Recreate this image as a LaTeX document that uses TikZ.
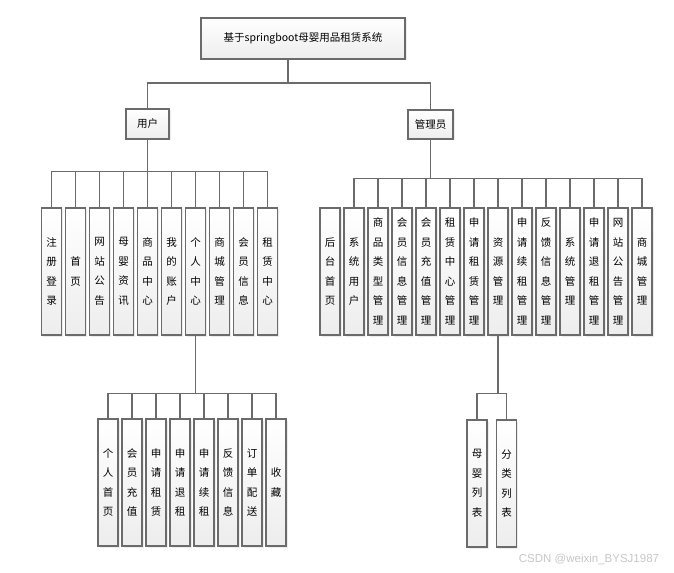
\documentclass[tikz,border=0pt]{standalone}
\usepackage{fontspec}
\setmainfont{Noto Sans CJK SC}
\newfontfamily\wmfont{Liberation Sans}
\usetikzlibrary{shadows, positioning}

\begin{document}
\begin{tikzpicture}[x=1bp, y=-1bp, node distance=24bp,
    block/.style={rectangle, draw=black!58, line width=1.2bp, top color=white, bottom color=gray!14, drop shadow={shadow xshift=1.5bp, shadow yshift=-1.5bp, fill=gray!30}, text centered, inner sep=0pt, font=\fontsize{10.5bp}{12bp}\selectfont},
    leaf/.style={block, minimum width=20bp, minimum height=127bp, align=center, font=\fontsize{10.5bp}{19.5bp}\selectfont},
    link/.style={draw, black!58, line width=1.1bp}]

    \useasboundingbox (0,0) rectangle (674,573);

    \node [block, minimum width=204bp, minimum height=41bp] (root) at (303,38.5) {基于springboot母婴用品租赁系统};
    \coordinate (hub) at (288,83);
    \node [block, minimum width=43bp, minimum height=30bp] (user) at (147.5,124) {用户};
    \node [block, minimum width=45bp, minimum height=29bp] (admin) at (430.5,124.5) {管理员};

    % user side
    \node [leaf] (u1) at (51.7,271.5) {注\\册\\登\\录};
    \node [leaf, right of=u1] (u2) {首\\页};
    \node [leaf, right of=u2] (u3) {网\\站\\公\\告};
    \node [leaf, right of=u3] (u4) {母\\婴\\资\\讯};
    \node [leaf, right of=u4] (u5) {商\\品\\中\\心};
    \node [leaf, right of=u5] (u6) {我\\的\\账\\户};
    \node [leaf, right of=u6] (u7) {个\\人\\中\\心};
    \node [leaf, right of=u7] (u8) {商\\城\\管\\理};
    \node [leaf, right of=u8] (u9) {会\\员\\信\\息};
    \node [leaf, right of=u9] (u10) {租\\赁\\中\\心};

    % admin side
    \node [leaf] (a1) at (330,271.5) {后\\台\\首\\页};
    \node [leaf, right of=a1] (a2) {系\\统\\用\\户};
    \node [leaf, right of=a2] (a3) {商\\品\\类\\型\\管\\理};
    \node [leaf, right of=a3] (a4) {会\\员\\信\\息\\管\\理};
    \node [leaf, right of=a4] (a5) {会\\员\\充\\值\\管\\理};
    \node [leaf, right of=a5] (a6) {租\\赁\\中\\心\\管\\理};
    \node [leaf, right of=a6] (a7) {申\\请\\租\\赁\\管\\理};
    \node [leaf, right of=a7] (a8) {资\\源\\管\\理};
    \node [leaf, right of=a8] (a9) {申\\请\\续\\租\\管\\理};
    \node [leaf, right of=a9] (a10) {反\\馈\\信\\息\\管\\理};
    \node [leaf, right of=a10] (a11) {系\\统\\管\\理};
    \node [leaf, right of=a11] (a12) {申\\请\\退\\租\\管\\理};
    \node [leaf, right of=a12] (a13) {网\\站\\公\\告\\管\\理};
    \node [leaf, right of=a13] (a14) {商\\城\\管\\理};

    % personal centre
    \node [leaf] (p1) at (108,482.5) {个\\人\\首\\页};
    \node [leaf, right of=p1] (p2) {会\\员\\充\\值};
    \node [leaf, right of=p2] (p3) {申\\请\\租\\赁};
    \node [leaf, right of=p3] (p4) {申\\请\\退\\租};
    \node [leaf, right of=p4] (p5) {申\\请\\续\\租};
    \node [leaf, right of=p5] (p6) {反\\馈\\信\\息};
    \node [leaf, right of=p6] (p7) {订\\单\\配\\送};
    \node [leaf, right of=p7] (p8) {收\\藏};

    % resources
    \node [leaf] (r1) at (477,483.5) {母\\婴\\列\\表};
    \node [leaf, right=8.5bp of r1] (r2) {分\\类\\列\\表};

    \node [text=gray!45, font=\wmfont\fontsize{11.5bp}{12bp}\selectfont] (watermark) at (589,559) {CSDN @weixin\_BYSJ1987};

    \path [link] (root.south -| hub) -- (hub) -| (user.north);
    \path [link] (hub) -| (admin.north);

    \path [link] (user.south) -- ++(0,32) -| (u1.north);
    \path [link] (user.south) -- ++(0,32) -| (u2.north);
    \path [link] (user.south) -- ++(0,32) -| (u3.north);
    \path [link] (user.south) -- ++(0,32) -| (u4.north);
    \path [link] (user.south) -- ++(0,32) -| (u5.north);
    \path [link] (user.south) -- ++(0,32) -| (u6.north);
    \path [link] (user.south) -- ++(0,32) -| (u7.north);
    \path [link] (user.south) -- ++(0,32) -| (u8.north);
    \path [link] (user.south) -- ++(0,32) -| (u9.north);
    \path [link] (user.south) -- ++(0,32) -| (u10.north);

    \path [link] (admin.south) -- ++(0,39) -| (a2.north);
    \path [link] (admin.south) -- ++(0,39) -| (a3.north);
    \path [link] (admin.south) -- ++(0,39) -| (a4.north);
    \path [link] (admin.south) -- ++(0,39) -| (a5.north);
    \path [link] (admin.south) -- ++(0,39) -| (a6.north);
    \path [link] (admin.south) -- ++(0,39) -| (a7.north);
    \path [link] (admin.south) -- ++(0,39) -| (a8.north);
    \path [link] (admin.south) -- ++(0,39) -| (a9.north);
    \path [link] (admin.south) -- ++(0,39) -| (a10.north);
    \path [link] (admin.south) -- ++(0,39) -| (a11.north);
    \path [link] (admin.south) -- ++(0,39) -| (a12.north);
    \path [link] (admin.south) -- ++(0,39) -| (a13.north);
    \path [link] (admin.south) -- ++(0,39) -| (a14.north);

    \path [link] (u7.south) -- ++(0,58) -| (p1.north);
    \path [link] (u7.south) -- ++(0,58) -| (p2.north);
    \path [link] (u7.south) -- ++(0,58) -| (p3.north);
    \path [link] (u7.south) -- ++(0,58) -| (p4.north);
    \path [link] (u7.south) -- ++(0,58) -| (p5.north);
    \path [link] (u7.south) -- ++(0,58) -| (p6.north);
    \path [link] (u7.south) -- ++(0,58) -| (p7.north);
    \path [link] (u7.south) -- ++(0,58) -| (p8.north);

    \path [link] (a8.south) -- ++(0,58) -| (r1.north);
    \path [link] (a8.south) -- ++(0,58) -| (r2.north);
\end{tikzpicture}
\end{document}
